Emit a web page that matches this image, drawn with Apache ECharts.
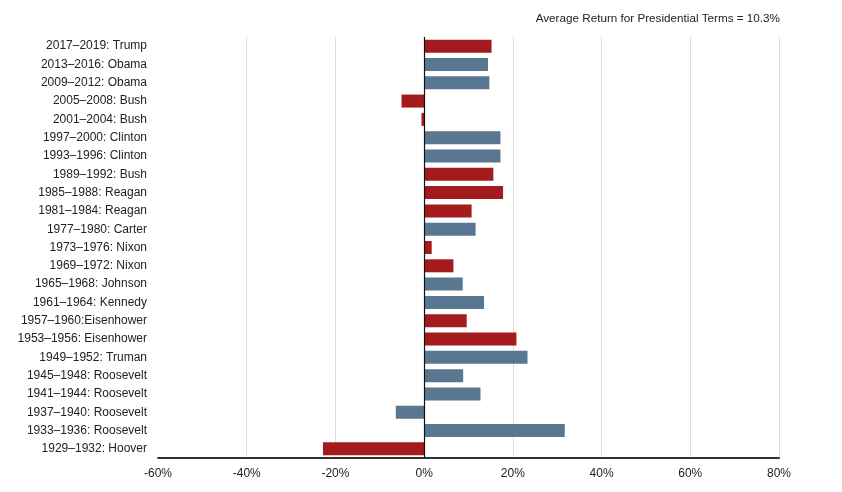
<!DOCTYPE html>
<html>
<head>
<meta charset="utf-8">
<script src="https://cdn.jsdelivr.net/npm/echarts@6/dist/echarts.min.js"></script>
<style>
  html, body { margin: 0; padding: 0; background: #fff; }
  #chart { width: 842px; height: 492px; }
</style>
</head>
<body>
<div id="chart"></div>
<script>
// terms, listed top to bottom as in the picture
var terms = [
  '2017–2019: Trump', '2013–2016: Obama', '2009–2012: Obama', '2005–2008: Bush',
  '2001–2004: Bush', '1997–2000: Clinton', '1993–1996: Clinton', '1989–1992: Bush',
  '1985–1988: Reagan', '1981–1984: Reagan', '1977–1980: Carter', '1973–1976: Nixon',
  '1969–1972: Nixon', '1965–1968: Johnson', '1961–1964: Kennedy', '1957–1960:Eisenhower',
  '1953–1956: Eisenhower', '1949–1952: Truman', '1945–1948: Roosevelt', '1941–1944: Roosevelt',
  '1937–1940: Roosevelt', '1933–1936: Roosevelt', '1929–1932: Hoover'
];
var returns = [
  15.2, 14.4, 14.7, -5.1,
  -0.6, 17.2, 17.2, 15.6,
  17.8, 10.7, 11.6, 1.7,
  6.6, 8.7, 13.5, 9.6,
  20.8, 23.3, 8.8, 12.7,
  -6.4, 31.7, -22.8
];
var party = [
  'R', 'D', 'D', 'R',
  'R', 'D', 'D', 'R',
  'R', 'R', 'D', 'R',
  'R', 'D', 'D', 'R',
  'R', 'D', 'D', 'D',
  'D', 'D', 'R'
];
var xTicks = { min: -60, max: 80, step: 20 };
var avgLabel = 'Average Return for Presidential Terms = 10.3%';

var partyColor = { R: '#a31b1c', D: '#5a7792' };

var chart = echarts.init(document.getElementById('chart'));
var option = {
  animation: false,
  textStyle: { fontFamily: 'Liberation Sans, Arial, sans-serif' },
  title: {
    text: avgLabel,
    right: 57,
    top: 8,
    textStyle: { fontSize: 11.7, fontWeight: 'normal', color: '#222' }
  },
  grid: { left: 158, right: 63, top: 37, bottom: 34, containLabel: false, outerBoundsMode: 'none' },
  xAxis: {
    type: 'value',
    min: xTicks.min,
    max: xTicks.max,
    interval: xTicks.step,
    axisLine: { show: true, onZero: false, lineStyle: { color: '#333', width: 2 } },
    axisTick: { show: false },
    axisLabel: { formatter: '{value}%', color: '#222', fontSize: 12, margin: 10 },
    splitLine: {
      show: true,
      lineStyle: { color: ['rgba(0,0,0,0)', '#dcdcdc', '#dcdcdc', '#dcdcdc', '#dcdcdc', '#dcdcdc', '#dcdcdc', '#dcdcdc'], width: 1 }
    }
  },
  yAxis: {
    type: 'category',
    data: terms,
    inverse: true,
    axisLine: { show: false, onZero: false },
    axisTick: { show: false },
    axisLabel: { color: '#222', fontSize: 12, margin: 11 }
  },
  series: [{
    type: 'bar',
    barWidth: 13,
    data: returns.map(function (v, i) {
      return { value: v, itemStyle: { color: partyColor[party[i]] } };
    }),
    markLine: {
      silent: true,
      symbol: 'none',
      label: { show: false },
      lineStyle: { color: '#111', width: 1.2, type: 'solid' },
      data: [{ xAxis: 0 }]
    }
  }]
};
chart.setOption(option);
</script>
</body>
</html>
